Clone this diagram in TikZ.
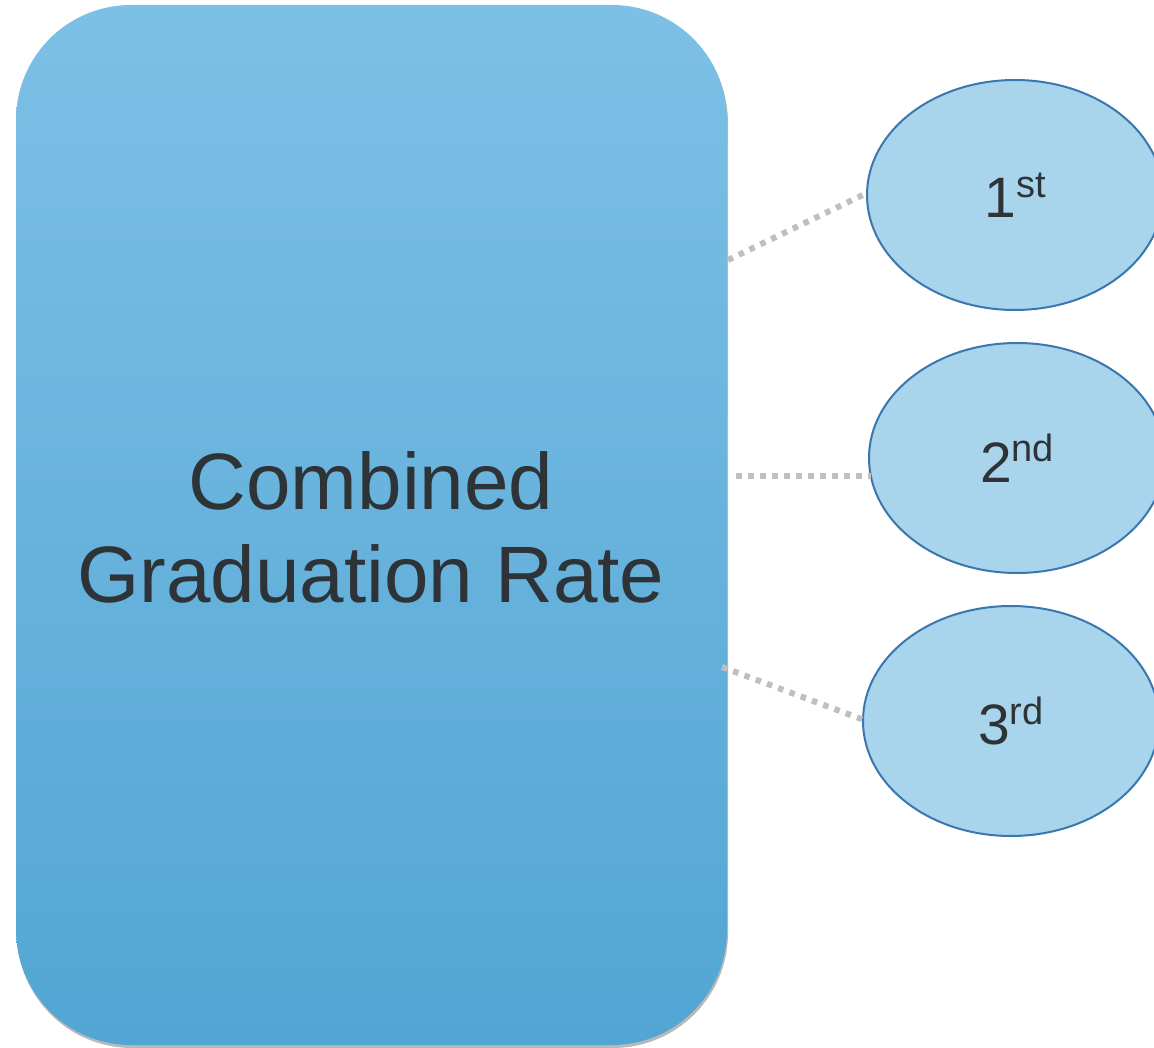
\documentclass[tikz,border=0pt]{standalone}
\usepackage{fontspec}
\setmainfont{Liberation Sans}
\usetikzlibrary{shadows,shapes.geometric}
\definecolor{boxtop}{HTML}{7DC0E6}
\definecolor{boxbot}{HTML}{52A6D3}
\definecolor{ellfill}{HTML}{A8D4EC}
\definecolor{elldraw}{HTML}{3A77AE}
\definecolor{txt}{HTML}{2E3338}
\definecolor{dotc}{HTML}{BFBFBF}
\tikzset{
  bigbox/.style={rounded corners=115pt, top color=boxtop, bottom color=boxbot, draw=none,
    drop shadow={shadow xshift=1pt, shadow yshift=-3pt, opacity=0.5, fill=black!55}},
  yearell/.style={ellipse, fill=ellfill, draw=elldraw, line width=2pt, minimum width=296pt, minimum height=230pt, inner sep=0pt, text=txt, font=\fontsize{57}{57}\selectfont},
  dotline/.style={draw=dotc, line width=6pt, dash pattern=on 5.5pt off 6.5pt}
}
\newcommand{\sups}[1]{\raisebox{0.36em}{\fontsize{38}{38}\selectfont #1}}
\begin{document}
\begin{tikzpicture}[x=1pt,y=-1pt]
\useasboundingbox (0,0) rectangle (1154,1048);
\clip (0,0) rectangle (1154,1048);
\node[bigbox, minimum width=711pt, minimum height=1040pt, inner sep=0pt] (box) at (371.5,525) {};
\node[text=txt, align=center, font=\fontsize{80}{93}\selectfont] (lbl) at (371,527) {Combined\\Graduation Rate};
\node[yearell] (e1) at (1015,195) {1\sups{st}};
\node[yearell] (e2) at (1017,458) {2\sups{nd}};
\node[yearell] (e3) at (1011,721) {3\sups{rd}};
\coordinate (c1) at (728,260);
\coordinate (c2) at (736,476);
\coordinate (c3) at (722,667);
\coordinate (d1) at (867,193);
\coordinate (d2) at (871,476);
\coordinate (d3) at (864,720);
\draw[dotline] (c1) -- (d1);
\draw[dotline] (c2) -- (d2);
\draw[dotline] (c3) -- (d3);
\end{tikzpicture}
\end{document}
